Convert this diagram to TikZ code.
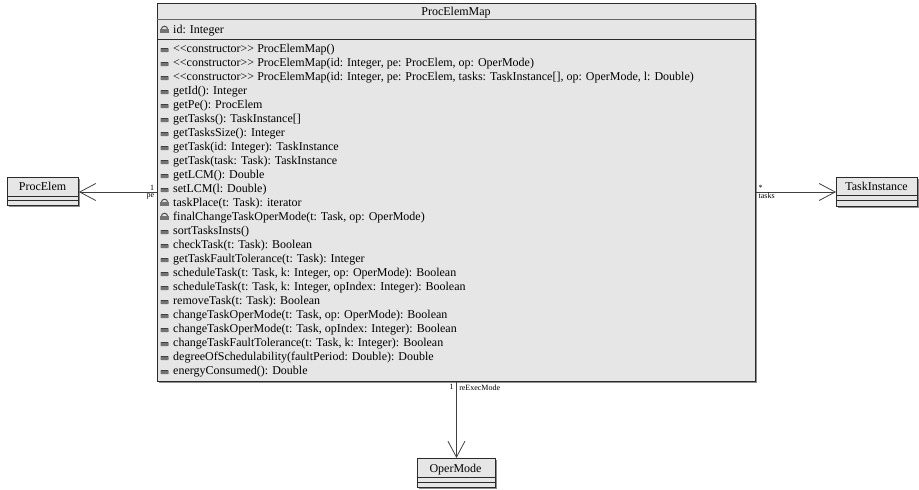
\documentclass[tikz,border=0pt]{standalone}
\usepackage{fontspec}
\setmainfont{Liberation Serif}
\usetikzlibrary{arrows.meta,shadows}
\definecolor{classfill}{HTML}{E6E6E6}
\definecolor{shadowgray}{HTML}{8E8E8E}
\definecolor{edgegray}{HTML}{2A2A2A}
\tikzset{
  classbox/.style={draw=edgegray, fill=classfill, line width=0.9pt, inner sep=0pt,
    anchor=north west,
    drop shadow={shadow xshift=1.8pt, shadow yshift=-1.8pt, fill=shadowgray, opacity=1}},
  divline/.style={draw=edgegray, line width=0.8pt},
  softdiv/.style={draw=black!60, line width=0.9pt},
  member/.style={anchor=base west, inner sep=0pt, font=\fontsize{12}{14}\selectfont},
  ctitle/.style={anchor=base, inner sep=0pt, font=\fontsize{12}{14}\selectfont},
  rolelabel/.style={inner sep=0.6pt, font=\fontsize{8}{9}\selectfont},
  assoc/.style={draw=black!75, line width=0.9pt,
    -{Straight Barb[length=16pt, width=17pt, line width=0.8pt]}},
  % public member: flat grey slab
  pubicon/.pic={
    \fill[black!55, rounded corners=0.6pt] (-4,-2) rectangle (4,2.2);
    \draw[black!75, line width=0.7pt] (-3.8,-1.8) -- (3.8,-1.8);
  },
  % private / protected member: small padlock
  lockicon/.pic={
    \draw[black!70, line width=1pt] (-3.1,0.3) arc[start angle=180, end angle=360, radius=3.1];
    \fill[black!55] (-4.1,0) rectangle (4.1,4);
  }
}
\begin{document}
\begin{tikzpicture}[x=1pt, y=-1pt]
\useasboundingbox (0,0) rectangle (919,490);

% ---- class ProcElemMap ----
\node[classbox, minimum width=598pt, minimum height=378pt] (main) at (157,3) {};
\draw[softdiv] (157,19.5) -- (755,19.5);
\draw[divline] (157,39) -- (755,39);
\node[ctitle] (mainname) at (456,15.5) {ProcElemMap};

\pic at (164.5,29) {lockicon};
\node[member] (attrid) at (173,33) {id: Integer};

\foreach \txt [count=\i from 0] in {
  {<{}<constructor>{}> ProcElemMap()},
  {<{}<constructor>{}> ProcElemMap(id: Integer, pe: ProcElem, op: OperMode)},
  {<{}<constructor>{}> ProcElemMap(id: Integer, pe: ProcElem, tasks: TaskInstance[], op: OperMode, l: Double)},
  {getId(): Integer},
  {getPe(): ProcElem},
  {getTasks(): TaskInstance[]},
  {getTasksSize(): Integer},
  {getTask(id: Integer): TaskInstance},
  {getTask(task: Task): TaskInstance},
  {getLCM(): Double},
  {setLCM(l: Double)},
  {taskPlace(t: Task): iterator},
  {finalChangeTaskOperMode(t: Task, op: OperMode)},
  {sortTasksInsts()},
  {checkTask(t: Task): Boolean},
  {getTaskFaultTolerance(t: Task): Integer},
  {scheduleTask(t: Task, k: Integer, op: OperMode): Boolean},
  {scheduleTask(t: Task, k: Integer, opIndex: Integer): Boolean},
  {removeTask(t: Task): Boolean},
  {changeTaskOperMode(t: Task, op: OperMode): Boolean},
  {changeTaskOperMode(t: Task, opIndex: Integer): Boolean},
  {changeTaskFaultTolerance(t: Task, k: Integer): Boolean},
  {degreeOfSchedulability(faultPeriod: Double): Double},
  {energyConsumed(): Double}}
{
  \pgfmathsetmacro{\by}{52+14*\i}
  \node[member] (op\i) at (173,\by) {\txt};
  \ifnum\i=11 \pic at (164.5,\by-4) {lockicon};
  \else\ifnum\i=12 \pic at (164.5,\by-4) {lockicon};
  \else \pic at (164.5,\by-2) {pubicon};
  \fi\fi
}

% ---- class ProcElem ----
\node[classbox, minimum width=71pt, minimum height=28pt] (procelem) at (7,177) {};
\draw[divline] (7,196) -- (78,196);
\draw[divline] (7,200.5) -- (78,200.5);
\node[ctitle] (procelemname) at (42.5,190.5) {ProcElem};

% ---- class TaskInstance ----
\node[classbox, minimum width=81pt, minimum height=29pt] (taskinst) at (836,177) {};
\draw[divline] (836,195.5) -- (917,195.5);
\draw[divline] (836,200.5) -- (917,200.5);
\node[ctitle] (taskinstname) at (876.5,190) {TaskInstance};

% ---- class OperMode ----
\node[classbox, minimum width=78pt, minimum height=29pt] (opermode) at (416.5,458) {};
\draw[divline] (416.5,477) -- (494.5,477);
\draw[divline] (416.5,482) -- (494.5,482);
\node[ctitle] (opermodename) at (455.5,472) {OperMode};

% ---- associations ----
\coordinate (peend) at (main.west |- 0,192);
\coordinate (tasksend) at (main.east |- 0,192);
\draw[assoc] (peend) -- (procelem.east |- peend);
\draw[assoc] (tasksend) -- (taskinst.west |- tasksend);
\draw[assoc] (main.south) -- (opermode.north -| main.south);

\node[rolelabel, anchor=south east] (pemult) at ([xshift=-2pt,yshift=1pt]peend) {1};
\node[rolelabel, anchor=north east] (perole) at ([xshift=-2pt,yshift=-0.5pt]peend) {pe};
\node[rolelabel, anchor=south west] (tasksmult) at ([xshift=2pt,yshift=1pt]tasksend) {*};
\node[rolelabel, anchor=north west] (tasksrole) at ([xshift=2pt,yshift=-0.5pt]tasksend) {tasks};
\node[rolelabel, anchor=north east] (opmult) at ([xshift=-2pt,yshift=-2pt]main.south) {1};
\node[rolelabel, anchor=north west] (oprole) at ([xshift=2pt,yshift=-2pt]main.south) {reExecMode};
\end{tikzpicture}
\end{document}
